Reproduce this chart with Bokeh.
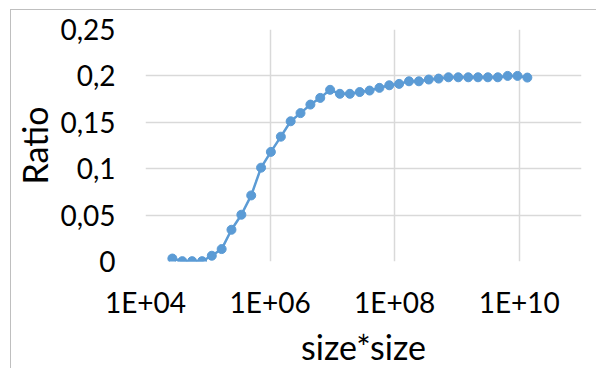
from bokeh.plotting import figure
from bokeh.models import Range1d, FixedTicker
from bokeh.embed import file_html
from bokeh.resources import INLINE

# size*size values (x) and ratio (y)
size_sq = [27000, 39000, 56000, 81000, 116000, 167000, 240000, 346000, 498000,
           717000, 1.03e6, 1.49e6, 2.14e6, 3.08e6, 4.44e6, 6.39e6, 9.2e6,
           1.32e7, 1.91e7, 2.75e7, 3.96e7, 5.7e7, 8.2e7, 1.18e8, 1.7e8,
           2.45e8, 3.53e8, 5.08e8, 7.31e8, 1.05e9, 1.52e9, 2.18e9, 3.14e9,
           4.53e9, 6.52e9, 9.38e9, 1.35e10]
ratio = [0.0032, 0.0004, 0.0004, 0.0004, 0.0062, 0.0134, 0.0342, 0.0504, 0.0712,
         0.1011, 0.1181, 0.1345, 0.1511, 0.1599, 0.1691, 0.1763, 0.1850,
         0.1807, 0.1807, 0.1826, 0.1842, 0.1871, 0.1899, 0.1914, 0.1942,
         0.1942, 0.1961, 0.1971, 0.1985, 0.1985, 0.1985, 0.1985, 0.1985,
         0.1985, 0.2000, 0.2000, 0.1982]

x_ticks = [1e4, 1e6, 1e8, 1e10]
x_tick_labels = ["1E+04", "1E+06", "1E+08", "1E+10"]
y_ticks = [0, 0.05, 0.1, 0.15, 0.2, 0.25]
y_tick_labels = ["0", "0,05", "0,1", "0,15", "0,2", "0,25"]
x_title = "size*size"
y_title = "Ratio"

FONT = "Lato"
BLUE = "#5B9BD5"
GRID = "#D9D9D9"

p = figure(frame_width=436, frame_height=232, x_axis_type="log",
           x_range=Range1d(1e4, 1e11), y_range=Range1d(0, 0.25),
           output_backend="svg", toolbar_location=None,
           min_border_left=134, min_border_right=16,
           min_border_top=19, min_border_bottom=108)
# chart-area border: top and left edges, drawn just outside the figure
p.styles = {"margin-left": "11px", "margin-top": "10px",
            "box-shadow": "-1px -1px 0 0 #BFBFBF"}
p.outline_line_color = None
p.background_fill_color = "white"
p.border_fill_color = "white"

p.line(size_sq, ratio, line_color=BLUE, line_width=2.5)
p.scatter(size_sq, ratio, marker="circle", size=9, fill_color=BLUE, line_color=BLUE)

for ax in (p.xaxis[0], p.yaxis[0]):
    ax.axis_line_color = None
    ax.major_tick_line_color = None
    ax.minor_tick_line_color = None
    ax.major_tick_out = 0
    ax.major_tick_in = 0
    ax.major_label_text_font = FONT
    ax.major_label_text_font_size = "28px"
    ax.major_label_text_color = "#000000"
    ax.axis_label_text_font = FONT
    ax.axis_label_text_font_size = "34px"
    ax.axis_label_text_font_style = "normal"
    ax.axis_label_text_color = "#000000"

p.xaxis[0].ticker = FixedTicker(ticks=x_ticks)
p.xaxis[0].major_label_overrides = dict(zip(x_ticks, x_tick_labels))
p.yaxis[0].ticker = FixedTicker(ticks=y_ticks)
p.yaxis[0].major_label_overrides = dict(zip(y_ticks, y_tick_labels))

p.xaxis[0].axis_label = x_title
p.yaxis[0].axis_label = y_title
p.xaxis[0].major_label_standoff = 23
p.yaxis[0].major_label_standoff = 30
p.xaxis[0].axis_label_standoff = 4
p.yaxis[0].axis_label_standoff = 2

p.xgrid[0].grid_line_color = GRID
p.ygrid[0].grid_line_color = GRID
p.xgrid[0].grid_line_width = 1.5
p.ygrid[0].grid_line_width = 1.5
p.xgrid[0].ticker = FixedTicker(ticks=x_ticks)
p.ygrid[0].ticker = FixedTicker(ticks=y_ticks)

open("out.html", "w").write(file_html(p, INLINE))
